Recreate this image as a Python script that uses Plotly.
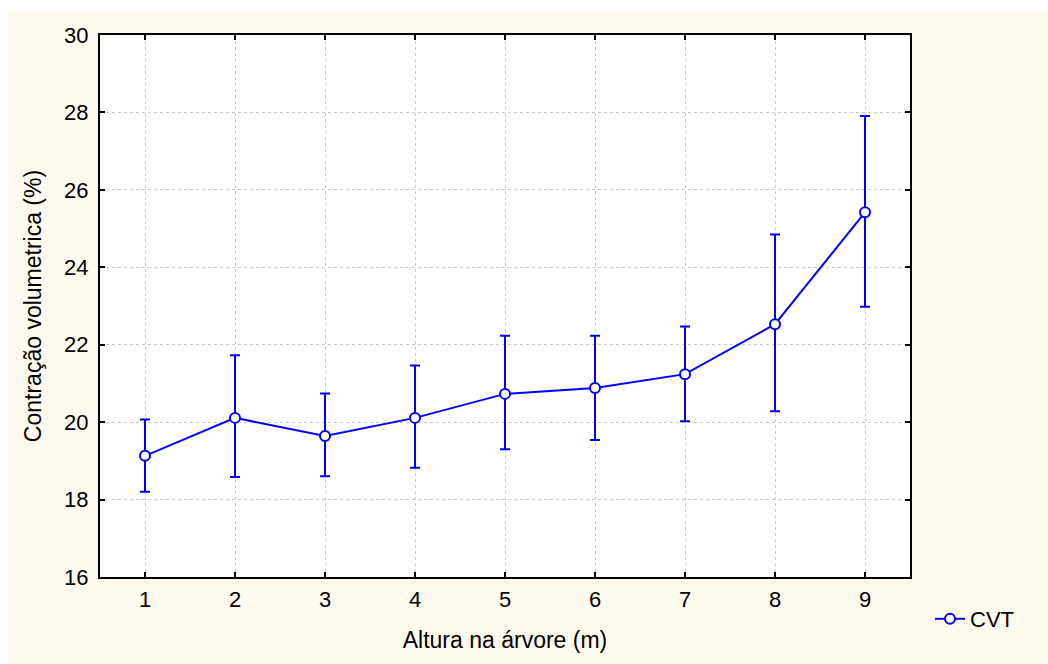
import plotly.graph_objects as go

heights = [1, 2, 3, 4, 5, 6, 7, 8, 9]
cvt_mean = [19.13, 20.11, 19.64, 20.11, 20.73, 20.88, 21.24, 22.53, 25.42]
cvt_upper = [20.07, 21.73, 20.74, 21.46, 22.23, 22.23, 22.47, 24.85, 27.91]
cvt_lower = [18.20, 18.58, 18.60, 18.82, 19.30, 19.54, 20.02, 20.28, 22.98]
y_ticks = [16, 18, 20, 22, 24, 26, 28, 30]

err_plus = [u - m for u, m in zip(cvt_upper, cvt_mean)]
err_minus = [m - l for m, l in zip(cvt_mean, cvt_lower)]

BLUE = "#0000FF"
CREAM = "#FFFAF0"
FONT = "Liberation Sans, Arial, sans-serif"

fig = go.Figure()
fig.add_trace(go.Scatter(
    x=heights, y=cvt_mean, name="CVT", mode="lines+markers",
    line=dict(color=BLUE, width=2),
    marker=dict(symbol="circle", size=10, color="white",
                line=dict(color=BLUE, width=2)),
    error_y=dict(type="data", symmetric=False, array=err_plus,
                 arrayminus=err_minus, color=BLUE, thickness=2, width=5),
))

W, H = 1048, 664
L, R, T, B = 100, 138, 35, 87
pw, ph = W - L - R, H - T - B

def px_x(p):
    return (p - L) / pw

def px_y(p):
    return (H - B - p) / ph

# white strips outside the cream frame
fig.add_shape(type="rect", xref="paper", yref="paper",
              x0=px_x(0), x1=px_x(8), y0=px_y(H), y1=px_y(0),
              fillcolor="white", line=dict(width=0), layer="below")
fig.add_shape(type="rect", xref="paper", yref="paper",
              x0=px_x(0), x1=px_x(W), y0=px_y(11), y1=px_y(0),
              fillcolor="white", line=dict(width=0), layer="below")

axis_common = dict(
    showline=True, linecolor="black", linewidth=2, mirror="ticks",
    ticks="inside", ticklen=5, tickwidth=2, tickcolor="black",
    showgrid=True, gridcolor="#C8C8C8", gridwidth=1, griddash="3px,3px",
    zeroline=False, tickfont=dict(family=FONT, size=22, color="black"),
)

fig.update_xaxes(range=[0.5, 9.5], tickvals=heights,
                 ticklabelstandoff=2,
                 title=dict(text="Altura na árvore (m)",
                            font=dict(family=FONT, size=23, color="black"),
                            standoff=20),
                 **axis_common)
fig.update_yaxes(range=[16, 30], tickvals=y_ticks,
                 ticklabelstandoff=5,
                 title=dict(text="Contração volumetrica (%)",
                            font=dict(family=FONT, size=23, color="black"),
                            standoff=16),
                 **axis_common)

fig.update_layout(
    width=W, height=H,
    margin=dict(l=L, r=R, t=T, b=B, autoexpand=False),
    paper_bgcolor=CREAM, plot_bgcolor="white",
    showlegend=True,
    legend=dict(x=px_x(930), y=px_y(619), xanchor="left", yanchor="middle",
                bgcolor="rgba(0,0,0,0)", font=dict(family=FONT, size=22, color="black")),
)

fig.write_html("out.html")
